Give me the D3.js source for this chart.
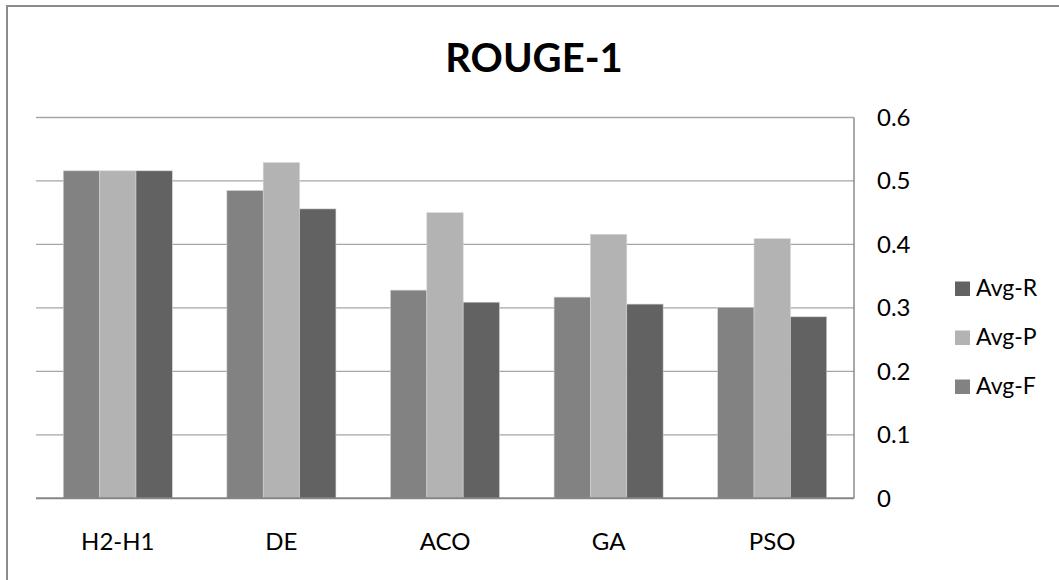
<!DOCTYPE html>
<html>
<head>
<meta charset="utf-8">
<script src="https://cdn.jsdelivr.net/npm/d3@7"></script>
<style>
  html, body { margin: 0; padding: 0; background: #fff; }
  svg { display: block; font-family: Lato, "Open Sans", sans-serif; }
</style>
</head>
<body>
<svg id="chart" width="1059" height="580"></svg>
<script>
// Categories (algorithms) along the x axis
const categories = ["H2-H1", "DE", "ACO", "GA", "PSO"];

// Series, in the order they are drawn within each group
const seriesNames = ["Avg-F", "Avg-P", "Avg-R"];
const avgF = [0.516, 0.485, 0.328, 0.317, 0.301];
const avgP = [0.516, 0.529, 0.450, 0.416, 0.409];
const avgR = [0.516, 0.456, 0.309, 0.306, 0.286];

// Legend order (top to bottom)
const legendOrder = ["Avg-R", "Avg-P", "Avg-F"];

// Value axis ticks
const yTicks = [0, 0.1, 0.2, 0.3, 0.4, 0.5, 0.6];

const seriesValues = { "Avg-F": avgF, "Avg-P": avgP, "Avg-R": avgR };
const colors = { "Avg-F": "#828282", "Avg-P": "#b3b3b3", "Avg-R": "#626262" };

const svg = d3.select("#chart");

// Outer chart frame
svg.append("rect")
  .attr("x", 7).attr("y", 6)
  .attr("width", 1060).attr("height", 590)
  .attr("fill", "#fff")
  .attr("stroke", "#8c8c8c")
  .attr("stroke-width", 2);

const plot = { left: 36, right: 854, top: 117.5, bottom: 498.3 };

// Group scale: gap between groups is 150% of a single bar width
const x0 = d3.scaleBand()
  .domain(categories)
  .range([plot.left, plot.right])
  .paddingInner(1 / 3)
  .paddingOuter(1 / 6);

const x1 = d3.scaleBand()
  .domain(seriesNames)
  .range([0, x0.bandwidth()])
  .padding(0);

const y = d3.scaleLinear()
  .domain([0, 0.6])
  .range([plot.bottom, plot.top]);

// Horizontal gridlines
svg.append("g")
  .selectAll("line")
  .data(yTicks.filter(t => t > 0))
  .join("line")
  .attr("x1", plot.left).attr("x2", plot.right)
  .attr("y1", d => y(d)).attr("y2", d => y(d))
  .attr("stroke", "#a6a6a6")
  .attr("stroke-width", 1.3);

// Bars
const groups = svg.append("g")
  .selectAll("g")
  .data(categories)
  .join("g")
  .attr("transform", c => `translate(${x0(c)},0)`);

groups.selectAll("rect")
  .data((c, i) => seriesNames.map(s => ({ s, v: seriesValues[s][i] })))
  .join("rect")
  .attr("x", d => x1(d.s))
  .attr("y", d => y(d.v))
  .attr("width", x1.bandwidth())
  .attr("height", d => y(0) - y(d.v))
  .attr("fill", d => colors[d.s])
  .attr("stroke", "#d4d4d4")
  .attr("stroke-width", 0.6);

// Right-hand value axis line
svg.append("line")
  .attr("x1", plot.right).attr("x2", plot.right)
  .attr("y1", plot.top).attr("y2", plot.bottom)
  .attr("stroke", "#8c8c8c")
  .attr("stroke-width", 1.5);

// Category axis line
svg.append("line")
  .attr("x1", plot.left).attr("x2", plot.right)
  .attr("y1", plot.bottom).attr("y2", plot.bottom)
  .attr("stroke", "#868686")
  .attr("stroke-width", 2);

// Value tick labels on the right
svg.append("g")
  .selectAll("text")
  .data(yTicks)
  .join("text")
  .attr("x", 877)
  .attr("y", d => y(d) + 8.5)
  .attr("font-size", 24)
  .attr("fill", "#000")
  .text(d => d3.format("")(d));

// Category labels
svg.append("g")
  .selectAll("text")
  .data(categories)
  .join("text")
  .attr("x", c => x0(c) + x0.bandwidth() / 2)
  .attr("y", 550)
  .attr("text-anchor", "middle")
  .attr("font-size", 24)
  .attr("fill", "#000")
  .text(d => d);

// Title
svg.append("text")
  .attr("x", 534)
  .attr("y", 71.5)
  .attr("text-anchor", "middle")
  .attr("font-size", 40)
  .attr("font-weight", "bold")
  .attr("fill", "#000")
  .text("ROUGE-1");

// Legend
const legend = svg.append("g")
  .selectAll("g")
  .data(legendOrder)
  .join("g")
  .attr("transform", (d, i) => `translate(955,${296 + i * 49})`);

legend.append("rect")
  .attr("x", 0).attr("y", -14.5)
  .attr("width", 15).attr("height", 14.5)
  .attr("fill", d => colors[d]);

legend.append("text")
  .attr("x", 21)
  .attr("y", 0)
  .attr("font-size", 23)
  .attr("fill", "#000")
  .text(d => d);
</script>
</body>
</html>
